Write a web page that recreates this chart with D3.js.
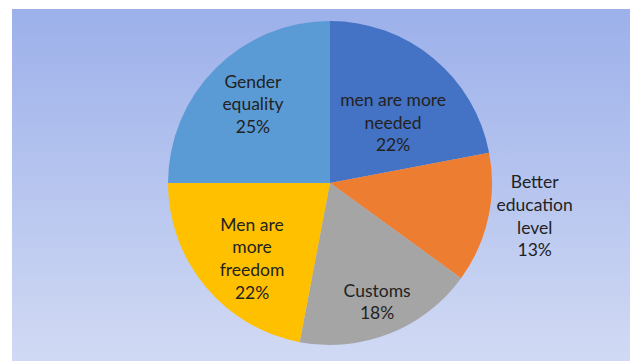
<!DOCTYPE html>
<html>
<head>
<meta charset="utf-8">
<script src="https://cdn.jsdelivr.net/npm/d3@7"></script>
<style>
  body { margin: 0; background: #fff; }
  svg { display: block; }
</style>
</head>
<body>
<svg id="pieChart"></svg>
<script>
// data (clockwise from 12 o'clock)
const categories = [
  ["men are more", "needed"],
  ["Better", "education", "level"],
  ["Customs"],
  ["Men are", "more", "freedom"],
  ["Gender", "equality"]
];
const values = [22, 13, 18, 22, 25];
const sliceColors = ["#4472C4", "#ED7D31", "#A5A5A5", "#FFC000", "#5B9BD5"];

// label placement like excel "best fit": radius factor + angle nudge (deg)
const labelRadius = [0.54, 1.28, 0.79, 0.67, 0.68];
const labelNudge = [6.6, -3.4, 0, -4.5, 0.6];

const width = 630, height = 361;
const cx = 330, cy = 183, r = 162;

const svg = d3.select('#pieChart')
  .attr('width', width)
  .attr('height', height);

// background panel with vertical gradient
const grad = svg.append('defs').append('linearGradient')
  .attr('id', 'bg')
  .attr('x1', 0).attr('y1', 0).attr('x2', 0).attr('y2', 1);
grad.append('stop').attr('offset', '0%').attr('stop-color', '#9CB0EA');
grad.append('stop').attr('offset', '100%').attr('stop-color', '#D1DAF4');

svg.append('rect')
  .attr('x', 12).attr('y', 9)
  .attr('width', width - 12).attr('height', height - 9)
  .attr('fill', 'url(#bg)');

const pie = d3.pie().sort(null).value(d => d)(values);
const arc = d3.arc().innerRadius(0).outerRadius(r);

const g = svg.append('g').attr('transform', `translate(${cx},${cy})`);

g.selectAll('.slice')
  .data(pie)
  .enter()
  .append('path')
  .attr('class', 'slice')
  .attr('d', arc)
  .attr('fill', (d, i) => sliceColors[i]);

const lineH = 22.6;
const labels = g.selectAll('.label')
  .data(pie)
  .enter()
  .append('text')
  .attr('class', 'label')
  .attr('text-anchor', 'middle')
  .attr('font-family', 'Lato, sans-serif')
  .attr('font-size', '17.5px')
  .attr('fill', '#222');

labels.each(function(d, i) {
  const mid = (d.startAngle + d.endAngle) / 2 + labelNudge[i] * Math.PI / 180;
  const dist = labelRadius[i] * r;
  const x = Math.sin(mid) * dist;
  const y = -Math.cos(mid) * dist;
  const lines = categories[i].concat([values[i] + "%"]);
  const y0 = y - (lines.length - 1) * lineH / 2;
  d3.select(this).selectAll('tspan')
    .data(lines)
    .enter()
    .append('tspan')
    .attr('x', x)
    .attr('y', (t, k) => y0 + k * lineH)
    .attr('dy', '0.35em')
    .text(t => t);
});
</script>
</body>
</html>
